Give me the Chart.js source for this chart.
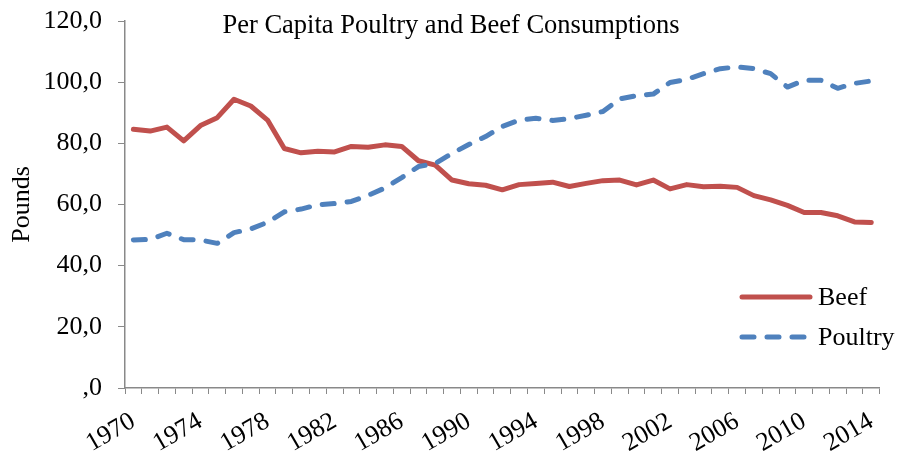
<!DOCTYPE html>
<html>
<head>
<meta charset="utf-8">
<script src="https://cdn.jsdelivr.net/npm/chart.js@4/dist/chart.umd.min.js"></script>
<style>
  html, body { margin: 0; padding: 0; background: #ffffff; }
  #wrap { width: 899px; height: 451px; position: relative; }
</style>
</head>
<body>
<div id="wrap"><canvas id="c" width="899" height="451"></canvas></div>
<script>
const years = [];
for (let y = 1970; y <= 2014; y++) years.push(String(y));

const beef = [84.6, 84.0, 85.3, 80.8, 85.8, 88.4, 94.4, 92.2, 87.6, 78.3, 76.9,
  77.4, 77.2, 79.0, 78.7, 79.5, 79.0, 74.3, 72.9, 68.0, 66.8,
  66.3, 64.8, 66.5, 66.9, 67.3, 65.9, 66.9, 67.8, 68.0, 66.4,
  68.0, 65.1, 66.5, 65.8, 66.0, 65.6, 62.9, 61.5, 59.7, 57.4,
  57.4, 56.3, 54.3, 54.1];

const poultry = [48.4, 48.6, 50.6, 48.5, 48.4, 47.3, 50.8, 52.0, 54.2, 57.6, 58.5,
  59.9, 60.3, 61.0, 63.0, 65.4, 68.8, 72.4, 73.4, 76.7, 79.6,
  82.2, 85.5, 87.6, 88.2, 87.5, 88.1, 89.2, 90.4, 94.5, 95.6,
  96.1, 99.9, 100.9, 102.8, 104.4, 105.0, 104.4, 102.8, 98.4, 100.6,
  100.6, 98.0, 99.6, 100.4];

const chartTitle = 'Per Capita Poultry and Beef Consumptions';
const yTitle = 'Pounds';
const seriesNames = ['Beef', 'Poultry'];
const FONT = '"Liberation Serif", "Times New Roman", serif';

const overlayPlugin = {
  id: 'overlay',
  afterDraw(chart) {
    const ctx = chart.ctx;
    ctx.save();
    ctx.fillStyle = '#000000';
    ctx.font = '26.5px ' + FONT;
    ctx.textAlign = 'center';
    ctx.textBaseline = 'alphabetic';
    ctx.fillText(chartTitle, 451, 33);

    const items = [
      { ds: chart.data.datasets[0], y: 297, ty: 305 },
      { ds: chart.data.datasets[1], y: 337, ty: 345 }
    ];
    items.forEach(it => {
      ctx.save();
      ctx.strokeStyle = it.ds.borderColor;
      ctx.lineWidth = it.ds.borderWidth;
      ctx.lineCap = 'round';
      ctx.setLineDash(it.ds.borderDash || []);
      ctx.beginPath();
      ctx.moveTo(742, it.y);
      ctx.lineTo(810, it.y);
      ctx.stroke();
      ctx.restore();
      ctx.fillStyle = '#000000';
      ctx.font = '26px ' + FONT;
      ctx.textAlign = 'left';
      ctx.fillText(it.ds.label, 818, it.ty);
    });
    ctx.restore();
  }
};

const axisGray = '#898989';

new Chart(document.getElementById('c'), {
  type: 'line',
  data: {
    labels: years,
    datasets: [
      {
        label: seriesNames[0],
        data: beef,
        borderColor: '#C0504D',
        backgroundColor: '#C0504D',
        borderWidth: 5,
        borderCapStyle: 'round',
        borderJoinStyle: 'round',
        pointRadius: 0,
        tension: 0,
        fill: false,
        order: 1
      },
      {
        label: seriesNames[1],
        data: poultry,
        borderColor: '#4F81BD',
        backgroundColor: '#4F81BD',
        borderWidth: 5,
        borderDash: [12, 13],
        borderCapStyle: 'round',
        borderJoinStyle: 'round',
        pointRadius: 0,
        tension: 0,
        fill: false,
        order: 0
      }
    ]
  },
  options: {
    responsive: false,
    animation: false,
    devicePixelRatio: 1,
    layout: { padding: { left: 0, right: 14, top: 21, bottom: 0 } },
    plugins: {
      legend: { display: false },
      title: { display: false },
      tooltip: { enabled: false }
    },
    scales: {
      x: {
        type: 'category',
        offset: true,
        grid: {
          offset: true,
          display: true,
          drawOnChartArea: false,
          drawTicks: true,
          tickLength: 6,
          color: axisGray,
          lineWidth: 1
        },
        border: { display: true, color: axisGray, width: 1.5 },
        ticks: {
          autoSkip: false,
          maxRotation: 30,
          minRotation: 30,
          padding: 12,
          color: '#000000',
          font: { family: FONT, size: 26 },
          callback: function(value, index) {
            const lab = this.getLabelForValue(value);
            return ((+lab - 1970) % 4 === 0) ? lab : '';
          }
        },
        afterFit(scale) { scale.height = 63; scale.paddingTop = 0; }
      },
      y: {
        min: 0,
        max: 120,
        grid: {
          display: true,
          drawOnChartArea: false,
          drawTicks: true,
          tickLength: 7,
          color: axisGray,
          lineWidth: 1
        },
        border: { display: true, color: axisGray, width: 1.5 },
        ticks: {
          stepSize: 20,
          padding: 16,
          color: '#000000',
          font: { family: FONT, size: 26 },
          callback: function(v) {
            return v === 0 ? ',0' : v.toFixed(1).replace('.', ',');
          }
        },
        title: {
          display: true,
          text: yTitle,
          color: '#000000',
          font: { family: FONT, size: 26 },
          padding: { top: 7, bottom: 0 }
        },
        afterFit(scale) {
          scale.width = 125;
          scale.paddingTop = 0;
          scale.paddingBottom = 0;
        }
      }
    }
  },
  plugins: [overlayPlugin]
});
</script>
</body>
</html>
